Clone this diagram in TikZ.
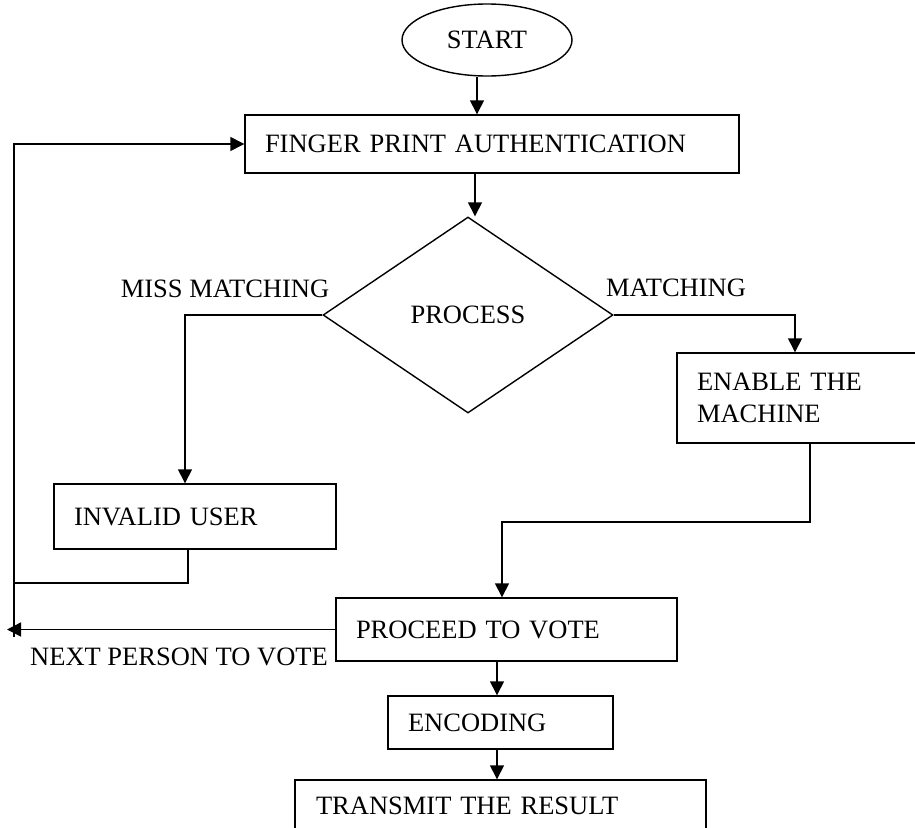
\documentclass[tikz,border=0pt]{standalone}
\usepackage{fontspec}
\setmainfont{Liberation Serif}
\usetikzlibrary{shapes.geometric,arrows.meta}
\begin{document}
\begin{tikzpicture}[x=1pt,y=-1pt,
  every node/.style={font=\fontsize{26.5}{32}\selectfont},
  box/.style={draw, line width=1.4pt, rectangle, inner xsep=20pt, inner ysep=0pt, align=left},
  conn/.style={line width=1.4pt},
  arr/.style={conn, -{Triangle[length=14pt,width=14pt]}},
  lbl/.style={inner sep=0pt}]
\useasboundingbox (0,0) rectangle (915,827);
\clip (0,0) rectangle (915,827);
% nodes
\node[draw, ellipse, line width=1.4pt, minimum width=170, minimum height=72, inner sep=0pt] (start) at (487,40) {START};
\node[box, minimum width=494, minimum height=58, text width=454] (finger) at (492,144) {FINGER PRINT AUTHENTICATION};
\node[draw, diamond, line width=1.4pt, minimum width=290, minimum height=196, inner sep=0pt] (process) at (468,315) {PROCESS};
\node[box, minimum width=282, minimum height=65, text width=242] (invalid) at (195,516.5) {INVALID USER};
\node[box, minimum width=253, minimum height=90, text width=213] (enable) at (803.5,398) {ENABLE THE\\MACHINE};
\node[box, minimum width=341, minimum height=63, text width=301] (proceed) at (506.5,629.5) {PROCEED TO VOTE};
\node[box, minimum width=225, minimum height=53, text width=185] (encoding) at (500.5,722.5) {ENCODING};
\node[box, minimum width=411, minimum height=52, text width=369, inner xsep=21pt] (transmit) at (500.5,806) {TRANSMIT THE RESULT};
% labels
\node[lbl] (lmiss) at (225,289) {MISS MATCHING};
\node[lbl] (lmatch) at (676,288) {MATCHING};
\node[lbl] (lnext) at (179,657) {NEXT PERSON TO VOTE};
% coordinates
\coordinate (c477) at (477,0);
\coordinate (c475) at (475,0);
\coordinate (c185) at (185,0);
\coordinate (c795) at (795,0);
\coordinate (c810) at (810,0);
\coordinate (c502) at (502,0);
\coordinate (c497) at (497,0);
\coordinate (c188) at (188,0);
\coordinate (bend1) at (502,522);
\coordinate (loopj) at (14,583);
\coordinate (looptop) at (14,144);
\coordinate (loopbot) at (14,637);
\coordinate (nextend) at (7,629.5);
% connectors
\draw[arr] (start.south -| c477) -- (finger.north -| c477);
\draw[arr] (finger.south -| c475) -- (process.north -| c475);
\draw[arr] (process.west) -| (invalid.north -| c185);
\draw[arr] (process.east) -| (enable.north -| c795);
\draw[arr] (enable.south -| c810) |- (bend1) -- (proceed.north -| c502);
\draw[conn] (invalid.south -| c188) |- (loopj);
\draw[arr] (loopbot) -- (looptop) -- (finger.west);
\draw[arr] (proceed.west) -- (nextend);
\draw[arr] (proceed.south -| c497) -- (encoding.north -| c497);
\draw[arr] (encoding.south -| c497) -- (transmit.north -| c497);
\end{tikzpicture}
\end{document}
